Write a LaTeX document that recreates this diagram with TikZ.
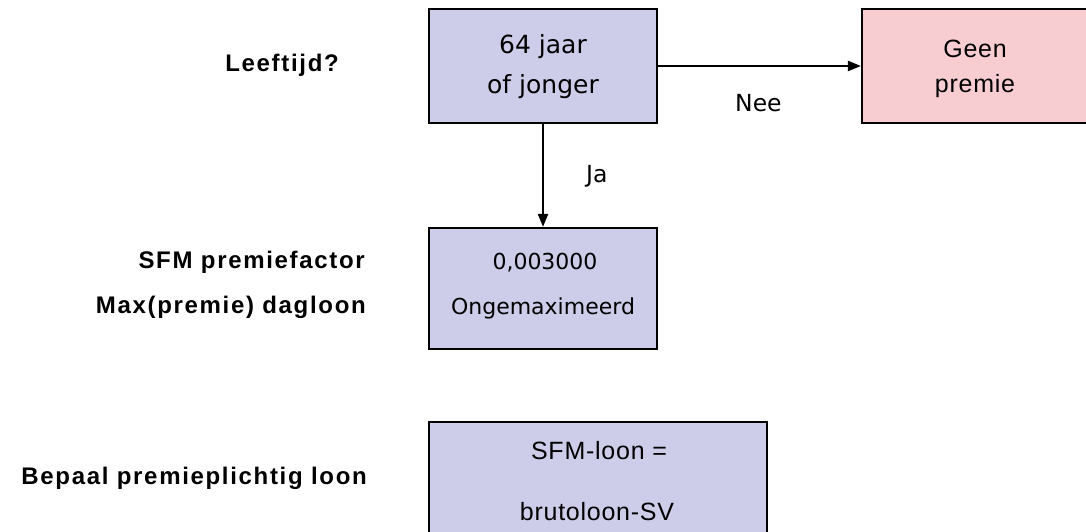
\documentclass[tikz,border=0pt]{standalone}
\usepackage{fontspec}
\setmainfont{DejaVu Sans}
\newfontfamily\arialls{Liberation Sans}[LetterSpace=3]
\newfontfamily\arialbd{Liberation Sans}[LetterSpace=7]
\usetikzlibrary{arrows.meta}
\definecolor{lav}{RGB}{205,205,234}
\definecolor{pnk}{RGB}{248,205,210}
\begin{document}
\begin{tikzpicture}[x=1pt,y=-1pt,
  box/.style={draw=black, line width=2.2pt, inner sep=0pt},
  lbl/.style={font=\arialbd\bfseries\fontsize{24}{28}\selectfont, anchor=base east, inner sep=0pt},
  vtxt/.style={font=\fontsize{25}{30}\selectfont, anchor=base, inner sep=0pt},
  stxt/.style={font=\fontsize{22}{26}\selectfont, anchor=base, inner sep=0pt},
  atxt/.style={font=\arialls\fontsize{25}{29}\selectfont, anchor=base, inner sep=0pt},
  etxt/.style={font=\fontsize{23.5}{28}\selectfont, anchor=base west, inner sep=0pt},
  arr/.style={line width=2.2pt, -{Triangle[length=13pt,width=10pt]}}]
\useasboundingbox (0,0) rectangle (1086,532);
\clip (0,0) rectangle (1086,532);
% boxes
\node[box, fill=lav, minimum width=228pt, minimum height=114pt] (b1) at (543,66) {};
\node[box, fill=pnk, minimum width=226pt, minimum height=114pt] (b2) at (975,66) {};
\node[box, fill=lav, minimum width=228pt, minimum height=121pt] (b3) at (543,288.5) {};
\node[box, fill=lav, minimum width=338pt, minimum height=123pt] (b4) at (598,483.5) {};
% box texts
\node[vtxt] (t1a) at (543,54) {64 jaar};
\node[vtxt] (t1b) at (543,94) {of jonger};
\node[atxt] (t2a) at (975,58) {Geen};
\node[atxt] (t2b) at (975,93) {premie};
\node[stxt] (t3a) at (545,269) {0,003000};
\node[stxt] (t3b) at (543,314) {Ongemaximeerd};
\node[atxt] (t4a) at (599,459) {SFM-loon =};
\node[atxt] (t4b) at (597,520) {brutoloon-SV};
% left labels
\node[lbl] (l1) at (339,72) {Leeftijd?};
\node[lbl] (l2) at (365,268) {SFM premiefactor};
\node[lbl] (l3) at (366,313) {Max(premie) dagloon};
\node[lbl] (l4) at (367,484) {Bepaal premieplichtig loon};
% connectors
\draw[arr] (b1.east) -- (b2.west);
\draw[arr] (b1.south) -- (b3.north);
\node[etxt] (nee) at (735,112) {Nee};
\node[etxt] (ja) at (586,182) {Ja};
\end{tikzpicture}
\end{document}
